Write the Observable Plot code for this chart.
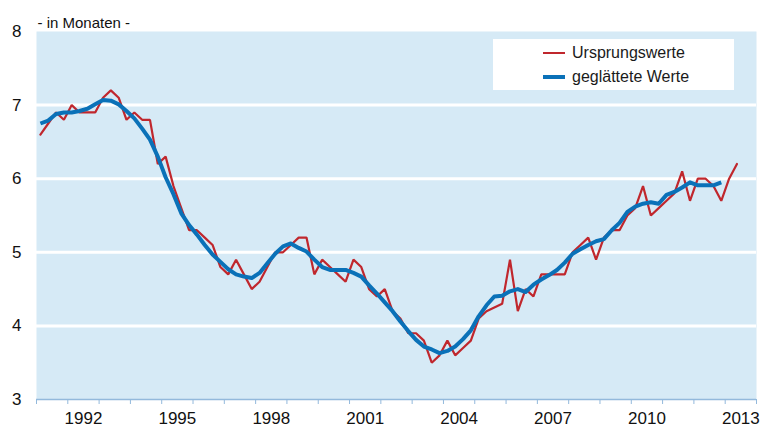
<!DOCTYPE html>
<html><head><meta charset="utf-8">
<script src="https://cdn.jsdelivr.net/npm/d3@7"></script>
<script src="https://cdn.jsdelivr.net/npm/@observablehq/plot@0.6"></script>
<style>
body{margin:0;background:#fff;font-family:"Liberation Sans",Arial,sans-serif;color:#1a1a1a;}
#wrap{position:relative;width:764px;height:428px;overflow:hidden;}
.legend{position:absolute;left:493px;top:39px;width:241px;height:51px;background:#fff;}
.legend .sw{position:absolute;left:50px;width:22px;}
.legend .lab{position:absolute;left:79px;font-size:16px;line-height:18px;white-space:nowrap;color:#1a1a1a;}
</style></head><body><div id="wrap"></div>
<script>
// Quarterly data, first quarter = 1991 Q1
const startYear = 1991;
const original = [
  6.6,6.75,6.9,6.8,7.0,6.9,6.9,6.9,7.1,7.2,
  7.1,6.8,6.9,6.8,6.8,6.2,6.3,5.9,5.6,5.3,
  5.3,5.2,5.1,4.8,4.7,4.9,4.7,4.5,4.6,4.8,
  5.0,5.0,5.1,5.2,5.2,4.7,4.9,4.8,4.7,4.6,
  4.9,4.8,4.5,4.4,4.5,4.2,4.1,3.9,3.9,3.8,
  3.5,3.6,3.8,3.6,3.7,3.8,4.1,4.2,4.25,4.3,
  4.9,4.2,4.5,4.4,4.7,4.7,4.7,4.7,5.0,5.1,
  5.2,4.9,5.2,5.3,5.3,5.5,5.6,5.9,5.5,5.6,
  5.7,5.8,6.1,5.7,6.0,6.0,5.9,5.7,6.0,6.2
];
const smoothed = [
  6.75,6.79,6.88,6.9,6.9,6.92,6.95,7.01,7.07,7.06,
  7.01,6.92,6.82,6.68,6.53,6.3,6.02,5.79,5.53,5.37,
  5.24,5.1,4.97,4.87,4.77,4.7,4.67,4.65,4.72,4.85,
  4.98,5.08,5.12,5.06,5.01,4.9,4.8,4.76,4.76,4.76,
  4.72,4.67,4.55,4.44,4.32,4.2,4.06,3.93,3.81,3.72,
  3.68,3.63,3.66,3.72,3.82,3.94,4.13,4.28,4.4,4.41,
  4.47,4.5,4.46,4.56,4.63,4.69,4.76,4.86,4.98,5.04,
  5.1,5.15,5.18,5.3,5.4,5.55,5.62,5.66,5.68,5.66,
  5.78,5.82,5.88,5.95,5.91,5.91,5.91,5.95
];
const yTicks = [3,4,5,6,7,8];
const gridValues = [4,5,6,7];
const yearTicks = d3.range(1991, 2015);
const yearLabels = [1992,1995,1998,2001,2004,2007,2010,2013];
const subtitle = "- in Monaten -";
const seriesNames = ["Ursprungswerte","geglättete Werte"];
const colors = {red:"#c0272d", blue:"#0a71b8", bg:"#d6eaf6", axis:"#93b9dc"};

const rows = vals => vals.map((v,i)=>({t: startYear + (i+0.5)/4, v}));

const chart = Plot.plot({
  width: 764, height: 428,
  marginLeft: 36, marginRight: 8, marginTop: 31, marginBottom: 29,
  style: {fontFamily: '"Liberation Sans", Arial, sans-serif', color: "#111", background: "transparent"},
  x: {domain: [1991, 2014], label: null},
  y: {domain: [3, 8], label: null},
  marks: [
    Plot.frame({fill: colors.bg, stroke: null}),
    Plot.ruleY(gridValues, {stroke: "#fff", strokeWidth: 3}),
    Plot.ruleY([3], {stroke: colors.axis, strokeWidth: 1.5}),
    Plot.axisX(yearTicks, {tickSize: 5, stroke: colors.axis, tickFormat: () => "", label: null}),
    Plot.axisX(yearLabels.map(y => y + 0.5), {tickSize: 0, tickPadding: 12, fontSize: 17, tickFormat: d => String(Math.floor(d)), label: null}),
    Plot.axisY(yTicks, {tickSize: 0, tickPadding: 15, fontSize: 17, tickFormat: d => String(d), label: null}),
    Plot.line(rows(original), {x: "t", y: "v", stroke: colors.red, strokeWidth: 2.2, strokeLinejoin: "miter"}),
    Plot.line(rows(smoothed), {x: "t", y: "v", stroke: colors.blue, strokeWidth: 4, strokeLinejoin: "round", strokeLinecap: "butt"}),
    Plot.text([subtitle], {frameAnchor: "top-left", dx: 1, dy: -14, fontSize: 15, textAnchor: "start", fill: "#111"})
  ]
});

const wrap = document.getElementById("wrap");
wrap.appendChild(chart);

const legend = document.createElement("div");
legend.className = "legend";
[[seriesNames[0], colors.red, 2.2, 14], [seriesNames[1], colors.blue, 4, 38]].forEach(([name, c, w, cy]) => {
  const sw = document.createElement("div");
  sw.className = "sw";
  sw.style.background = c;
  sw.style.height = w + "px";
  sw.style.top = (cy - w/2) + "px";
  const lab = document.createElement("div");
  lab.className = "lab";
  lab.style.top = (cy - 9) + "px";
  lab.textContent = name;
  legend.appendChild(sw);
  legend.appendChild(lab);
});
wrap.appendChild(legend);
</script>
</body></html>
